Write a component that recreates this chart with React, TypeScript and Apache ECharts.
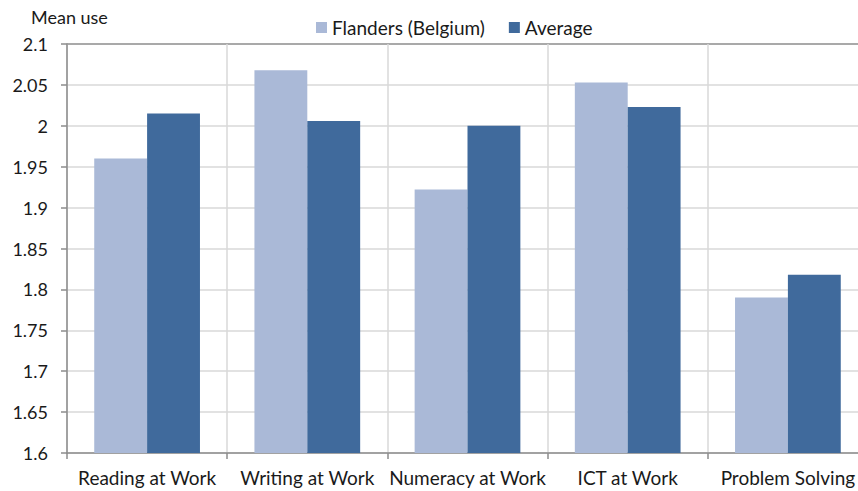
import React, { useEffect, useRef } from "react";
import * as echarts from "echarts";

const categories = ["Reading at Work", "Writing at Work", "Numeracy at Work", "ICT at Work", "Problem Solving"];
const flanders = [1.96, 2.068, 1.922, 2.053, 1.79];
const average = [2.015, 2.006, 2.0, 2.023, 1.818];
const seriesNames = ["Flanders (Belgium)", "Average"];
const yAxisTitle = "Mean use";

const FONT = "Lato";

export default function App() {
  const ref = useRef<HTMLDivElement>(null);
  useEffect(() => {
    if (!ref.current) return;
    const chart = echarts.init(ref.current, null, { renderer: "svg" });
    const gridColors = ["#d9d9d9", "#d9d9d9", "#d9d9d9", "#d9d9d9", "#d9d9d9", "#d9d9d9", "#d9d9d9", "#d9d9d9", "#d9d9d9", "#d9d9d9", "#8c8c8c"];
    chart.setOption({
      animation: false,
      backgroundColor: "#ffffff",
      textStyle: { fontFamily: FONT },
      grid: { left: 67, right: 0, top: 44, bottom: 38 },
      legend: {
        data: seriesNames,
        top: 13,
        left: 311,
        itemWidth: 11,
        itemHeight: 11,
        itemGap: 24,
        icon: "rect",
        textStyle: { fontFamily: FONT, fontSize: 19, color: "#1a1a1a" },
      },
      graphic: [
        {
          type: "text",
          left: 31,
          top: 8,
          style: { text: yAxisTitle, font: `18px ${FONT}`, fill: "#1a1a1a" },
        },
      ],
      xAxis: {
        type: "category",
        data: categories,
        axisLine: { lineStyle: { color: "#8c8c8c", width: 1.5 } },
        axisTick: { show: true, length: 6, lineStyle: { color: "#8c8c8c", width: 1.5 } },
        splitLine: { show: true, lineStyle: { color: "#d9d9d9", width: 1.5 } },
        axisLabel: { fontFamily: FONT, fontSize: 19, color: "#1a1a1a", margin: 15, interval: 0 },
      },
      yAxis: {
        type: "value",
        min: 1.6,
        max: 2.1,
        interval: 0.05,
        axisLine: { show: true, lineStyle: { color: "#8c8c8c", width: 1.5 } },
        axisTick: { show: true, length: 6, lineStyle: { color: "#8c8c8c", width: 1.5 } },
        splitLine: { show: true, lineStyle: { color: gridColors, width: 1.5 } },
        axisLabel: {
          fontFamily: FONT,
          fontSize: 18,
          color: "#1a1a1a",
          margin: 19,
          formatter: (v: number) => String(Math.round(v * 100) / 100),
        },
      },
      series: [
        {
          name: seriesNames[0],
          type: "bar",
          data: flanders,
          barGap: "0%",
          barCategoryGap: "34%",
          itemStyle: { color: "#aab9d7" },
        },
        {
          name: seriesNames[1],
          type: "bar",
          data: average,
          itemStyle: { color: "#406a9c" },
        },
      ],
    });
    return () => chart.dispose();
  }, []);
  return (
    <div style={{ position: "fixed", left: 0, top: 0, width: 858, height: 491, overflow: "hidden", background: "#fff" }}>
      <div ref={ref} style={{ width: 868, height: 491 }} />
    </div>
  );
}
